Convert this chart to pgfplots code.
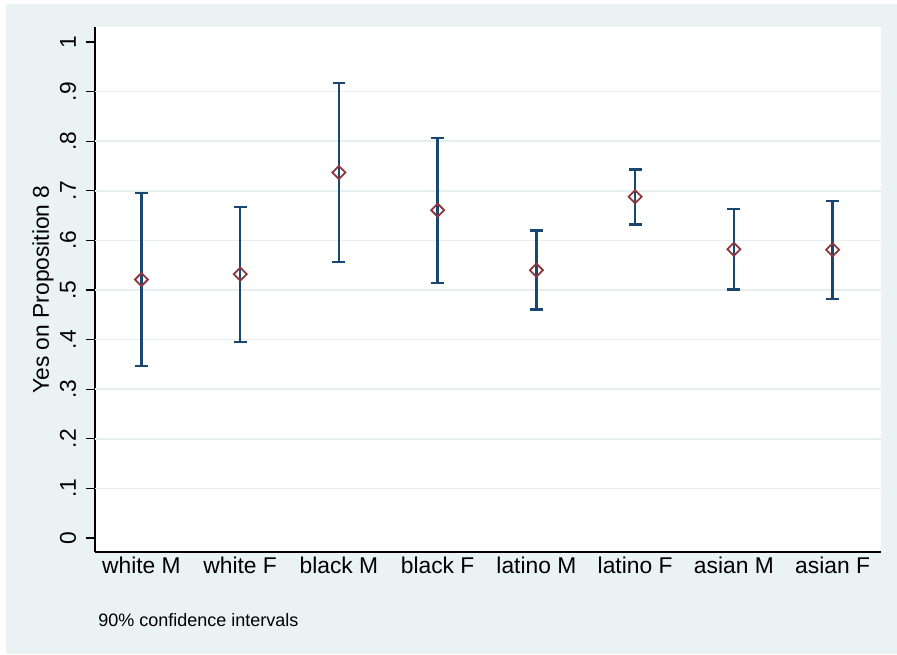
\documentclass[border=0pt]{standalone}
\usepackage{pgfplots}
\usepackage{pgfplotstable}
\pgfplotsset{compat=1.18}
\usepackage{fontspec}
\setmainfont{Liberation Sans}
\definecolor{bgc}{HTML}{EAF2F3}
\definecolor{gridc}{HTML}{E6EEF0}
\definecolor{navy}{HTML}{1A476F}
\definecolor{mred}{HTML}{90353B}
\pgfplotstableread{
x y lo hi
0 0.521 0.347 0.696
1 0.532 0.395 0.667
2 0.737 0.557 0.917
3 0.661 0.514 0.807
4 0.540 0.461 0.620
5 0.688 0.632 0.743
6 0.582 0.501 0.663
7 0.581 0.482 0.679
}\datatab
\begin{document}
\begin{tikzpicture}
\fill[white] (-47.5pt,-51pt) rectangle (401pt,276pt);
\fill[bgc] (-44.5pt,-51pt) rectangle (401pt,274pt);
\useasboundingbox (-47.5pt,-51pt) rectangle (401pt,276pt);
\begin{axis}[
  at={(0pt,0pt)}, anchor=south west,
  scale only axis, width=393pt, height=262.5pt,
  xmin=-0.47, xmax=7.49, ymin=-0.0282, ymax=1.0302,
  axis x line*=bottom, axis y line*=left,
  axis line style={-, black, line width=0.6pt},
  axis background/.style={fill=white},
  xtick={0,1,2,3,4,5,6,7},
  xticklabels={white M, white F, black M, black F, latino M, latino F, asian M, asian F},
  xtick style={draw=none},
  ytick={0,0.1,0.2,0.3,0.4,0.5,0.6,0.7,0.8,0.9,1},
  yticklabels={0,.1,.2,.3,.4,.5,.6,.7,.8,.9,1},
  tick align=outside,
  ytick style={black, line width=0.6pt},
  major tick length=4.5pt,
  /pgf/number format/assume math mode=true,
  every tick label/.append style={font=\fontsize{11.4}{13}\selectfont, text=black},
  yticklabel style={rotate=90, anchor=center, yshift=9pt},
  xticklabel style={anchor=base, yshift=-6pt},
  extra y ticks={0.1,0.2,0.3,0.4,0.5,0.6,0.7,0.8,0.9},
  extra y tick labels={},
  extra y tick style={ymajorgrids=true, major tick length=0pt, major grid style={gridc, line width=0.8pt}},
  every axis y label/.style={at={(axis description cs:0,0.5)}, rotate=90, anchor=center, yshift=26pt, font=\fontsize{11.4}{13}\selectfont},
  ylabel={Yes on Proposition 8},
  clip=false,
]
\addplot[navy, only marks, mark=square, mark size=2.3pt,
  mark options={rotate=45, draw=mred, line width=0.9pt, fill=none, solid},
  error bars/.cd, y dir=both, y explicit,
  error bar style={navy, line width=1.2pt},
  error mark options={rotate=90, navy, mark size=3.2pt, line width=1.2pt}]
  table[x=x, y=y, y error plus expr=\thisrow{hi}-\thisrow{y}, y error minus expr=\thisrow{y}-\thisrow{lo}] {\datatab};
\end{axis}
\node[anchor=base west, inner sep=0, font=\fontsize{9}{11}\selectfont] at (1.5pt,-37.3pt) {90\% confidence intervals};
\end{tikzpicture}
\end{document}
